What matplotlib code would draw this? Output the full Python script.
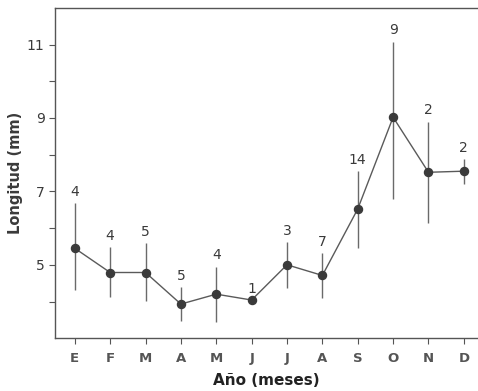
import matplotlib
matplotlib.use("Agg")
from matplotlib import pyplot as plt
import numpy as np

# month initials (Spanish), mean length, error bar bounds, sample counts
months = ["E", "F", "M", "A", "M", "J", "J", "A", "S", "O", "N", "D"]
mean_len = [5.45, 4.79, 4.79, 3.93, 4.20, 4.04, 5.00, 4.71, 6.52, 9.02, 7.52, 7.55]
upper = [6.68, 5.48, 5.59, 4.39, 4.95, 4.04, 5.61, 5.32, 7.56, 11.08, 8.90, 7.88]
lower = [4.31, 4.12, 4.01, 3.48, 3.43, 4.04, 4.36, 4.09, 5.45, 6.79, 6.15, 7.19]
counts = ["4", "4", "5", "5", "4", "1", "3", "7", "14", "9", "2", "2"]

ink = "#3a3a3a"
x = np.arange(len(months))
mean_len = np.array(mean_len)
yerr = [mean_len - np.array(lower), np.array(upper) - mean_len]

fig = plt.figure(figsize=(4.78, 3.91), dpi=100)
ax = fig.add_axes([0.115, 0.135, 0.885, 0.845])

ax.errorbar(x, mean_len, yerr=yerr, fmt="none", ecolor="#6a6a6a",
            elinewidth=1.0, capsize=0)
ax.plot(x, mean_len, color="#5a5a5a", linewidth=1.0, marker="o",
        markersize=5.8, markerfacecolor=ink, markeredgecolor=ink)

for xi, top, n in zip(x, upper, counts):
    ax.annotate(n, (xi, top), xytext=(0, 3), textcoords="offset points",
                ha="center", va="bottom", fontsize=10, color=ink)

ax.set_xlim(-0.56, 11.4)
ax.set_ylim(3, 12)
ax.set_xticks(x)
ax.set_xticklabels(months, fontweight="bold", fontsize=9.5, color="#222222")
ax.set_yticks([5, 7, 9, 11])
ax.set_yticks([4, 6, 8, 10], minor=True)
ax.tick_params(axis="y", which="both", length=4, width=0.8, colors="#555555",
               labelcolor=ink, labelsize=10)
ax.tick_params(axis="x", length=4, width=0.8, colors="#555555", pad=6)

for side in ["left", "bottom", "top"]:
    ax.spines[side].set_color("#555555")
    ax.spines[side].set_linewidth(1.0)
ax.spines["right"].set_visible(False)

ax.set_ylabel("Longitud (mm)", fontsize=10.5, fontweight="bold", color=ink,
              labelpad=3)
ax.set_xlabel("Año (meses)", fontsize=11, fontweight="bold", color="#222222",
              labelpad=6)

fig.savefig("out.png", dpi=100)
